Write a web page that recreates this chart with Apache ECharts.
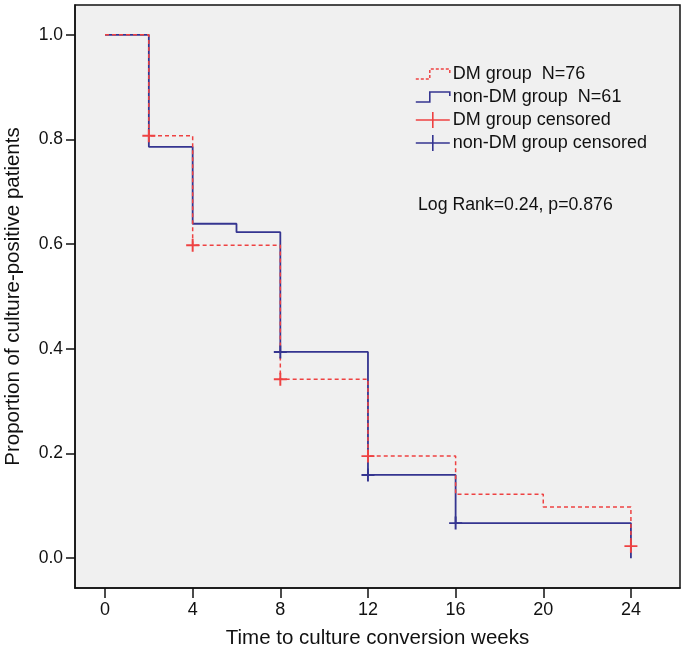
<!DOCTYPE html>
<html>
<head>
<meta charset="utf-8">
<script src="https://cdn.jsdelivr.net/npm/echarts@6/dist/echarts.min.js"></script>
<style>
  html, body { margin: 0; padding: 0; background: #fff; }
  #container { width: 685px; height: 658px; }
</style>
</head>
<body>
<div id="container"></div>
<script>
// Kaplan-Meier steps, [week, proportion]
var dmSteps = [[0, 1.0], [2, 0.807], [4, 0.598], [8, 0.342], [12, 0.195], [16, 0.122], [20, 0.098], [24, 0.023]];
var nonDmSteps = [[0, 1.0], [2, 0.786], [4, 0.639], [6, 0.623], [8, 0.394], [12, 0.159], [16, 0.067], [24, 0.0]];
var dmCensored = [[2, 0.807], [4, 0.598], [8, 0.342], [12, 0.195], [24, 0.023]];
var nonDmCensored = [[8, 0.394], [12, 0.159], [16, 0.067]];
var xTicks = [0, 4, 8, 12, 16, 20, 24];
var yTicks = [0, 0.2, 0.4, 0.6, 0.8, 1.0];
var seriesNames = ['DM group  N=76', 'non-DM group  N=61', 'DM group censored', 'non-DM group censored'];

var red = '#ee4242';
var blue = '#353590';
var font = 'Liberation Sans';
var plus = 'path://M0,5.1h12v1.8h-12z M5.1,0h1.8v12h-1.8z';

var dom = document.getElementById('container');
var myChart = echarts.init(dom, null, { renderer: 'canvas' });

var option = {
  animation: false,
  textStyle: { fontFamily: font },
  grid: {
    left: 75, top: 5, right: 5, bottom: 70,
    outerBoundsMode: 'none',
    show: true,
    backgroundColor: '#f0f0f0',
    borderColor: '#111',
    borderWidth: 1.5
  },
  title: {
    text: 'Log Rank=0.24, p=0.876',
    left: 418, top: 196,
    padding: 0,
    textStyle: { fontFamily: font, fontSize: 17.7, fontWeight: 'normal', color: '#111' }
  },
  legend: {
    orient: 'vertical',
    left: 415, top: 65,
    padding: 0,
    itemGap: 5,
    itemWidth: 34,
    itemHeight: 16,
    textStyle: { fontFamily: font, fontSize: 18, color: '#111', padding: [0, 0, 0, -2] },
    data: [
      { name: seriesNames[0], icon: 'path://M0,12L14,12L14,2L34,2L34,6',
        itemStyle: { color: 'transparent', borderColor: red, borderWidth: 1.5, borderType: [3, 2] } },
      { name: seriesNames[1], icon: 'path://M0,12L14,12L14,2L34,2L34,6',
        itemStyle: { color: 'transparent', borderColor: blue, borderWidth: 1.6 } },
      { name: seriesNames[2], icon: 'path://M0,7.2h34v1.6h-34z M16.2,0h1.6v16h-1.6z' },
      { name: seriesNames[3], icon: 'path://M0,7.2h34v1.6h-34z M16.2,0h1.6v16h-1.6z' }
    ]
  },
  xAxis: {
    type: 'value',
    min: -1.37, max: 26.24,
    name: 'Time to culture conversion weeks',
    nameLocation: 'middle',
    nameGap: 40,
    nameTextStyle: { fontFamily: font, fontSize: 20.5, color: '#111' },
    axisLine: { onZero: false, lineStyle: { color: '#111', width: 1.5 } },
    axisTick: { customValues: xTicks, length: 10, lineStyle: { color: '#111', width: 1.5 } },
    axisLabel: { customValues: xTicks, fontFamily: font, fontSize: 18, color: '#111', margin: 13 },
    splitLine: { show: false }
  },
  yAxis: {
    type: 'value',
    min: -0.057, max: 1.057,
    name: 'Proportion of culture-positive patients',
    nameLocation: 'middle',
    nameGap: 51,
    nameTextStyle: { fontFamily: font, fontSize: 20.5, color: '#111' },
    axisLine: { show: true, onZero: false, lineStyle: { color: '#111', width: 1.5 } },
    axisTick: { show: true, customValues: yTicks, length: 9, lineStyle: { color: '#111', width: 1.5 } },
    axisLabel: {
      customValues: yTicks, fontFamily: font, fontSize: 17.5, color: '#111', margin: 12,
      formatter: function (v) { return v.toFixed(1); }
    },
    splitLine: { show: false }
  },
  series: [
    {
      name: seriesNames[0], type: 'line', step: 'end', symbol: 'none',
      data: dmSteps, z: 3,
      itemStyle: { color: red },
      lineStyle: { color: red, width: 1.5, type: [4, 3] }
    },
    {
      name: seriesNames[1], type: 'line', step: 'end', symbol: 'none',
      data: nonDmSteps, z: 2,
      itemStyle: { color: blue },
      lineStyle: { color: blue, width: 1.8 }
    },
    {
      name: seriesNames[2], type: 'scatter', symbol: plus, symbolSize: 13,
      data: dmCensored, z: 4,
      itemStyle: { color: red, opacity: 1 }
    },
    {
      name: seriesNames[3], type: 'scatter', symbol: plus, symbolSize: 13,
      data: nonDmCensored, z: 4,
      itemStyle: { color: blue, opacity: 1 }
    }
  ]
};

myChart.setOption(option);
window.addEventListener('resize', myChart.resize);
</script>
</body>
</html>
